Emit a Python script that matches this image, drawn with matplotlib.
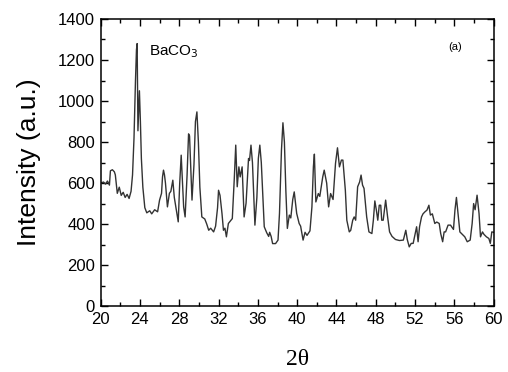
import numpy as np
import matplotlib
matplotlib.use("Agg")
from matplotlib import pyplot as plt
from matplotlib.ticker import MultipleLocator

# XRD pattern (2theta in degrees, intensity a.u.)
two_theta = [
    20.0, 20.3, 20.5, 20.7, 20.9, 21.0, 21.2, 21.4, 21.5, 21.7, 21.9, 22.1,
    22.3, 22.5, 22.7, 22.9, 23.1, 23.25, 23.4, 23.55, 23.65, 23.72, 23.8, 23.95,
    24.05, 24.15, 24.3, 24.5, 24.7, 25.0, 25.2, 25.5, 25.8, 26.0, 26.2, 26.3,
    26.4, 26.5, 26.6, 26.8, 27.0, 27.15, 27.35, 27.5, 27.7, 27.9, 28.05, 28.2,
    28.33, 28.45, 28.6, 28.8, 28.95, 29.05, 29.2, 29.3, 29.5, 29.65, 29.8, 29.95,
    30.1, 30.3, 30.6, 30.8, 31.0, 31.2, 31.5, 31.7, 31.9, 32.0, 32.15, 32.35,
    32.5, 32.65, 32.8, 33.0, 33.4, 33.6, 33.75, 33.9, 34.07, 34.2, 34.4, 34.6,
    34.8, 35.05, 35.15, 35.3, 35.45, 35.7, 35.9, 36.05, 36.2, 36.35, 36.65, 36.9,
    37.1, 37.2, 37.35, 37.5, 37.8, 38.05, 38.2, 38.4, 38.55, 38.7, 38.85, 39.0,
    39.2, 39.35, 39.55, 39.7, 39.95, 40.2, 40.35, 40.6, 40.8, 41.0, 41.3, 41.5,
    41.65, 41.75, 41.9, 42.15, 42.3, 42.6, 42.75, 43.0, 43.2, 43.4, 43.65, 43.9,
    44.1, 44.3, 44.5, 44.65, 44.9, 45.05, 45.3, 45.45, 45.65, 45.8, 45.95, 46.15,
    46.35, 46.5, 46.65, 46.8, 47.07, 47.3, 47.6, 47.75, 47.9, 48.05, 48.2, 48.35,
    48.5, 48.6, 48.75, 49.0, 49.2, 49.4, 49.65, 50.0, 50.4, 50.8, 51.05, 51.2,
    51.4, 51.6, 51.8, 52.15, 52.3, 52.45, 52.65, 52.8, 53.0, 53.2, 53.4, 53.55,
    53.75, 54.0, 54.2, 54.45, 54.6, 54.8, 54.95, 55.1, 55.35, 55.6, 55.9, 56.05,
    56.2, 56.4, 56.55, 56.8, 57.05, 57.3, 57.6, 57.8, 57.95, 58.1, 58.3, 58.5,
    58.65, 58.85, 59.0, 59.25, 59.5, 59.65, 59.8, 60.0,
]
intensity = [
    600, 605, 595, 610, 590, 660, 665, 655, 640, 550, 580, 540,
    555, 530, 545, 525, 560, 640, 820, 1100, 1250, 1280, 855, 1050,
    900, 720, 580, 480, 455, 465, 450, 470, 460, 517, 550, 630,
    663, 640, 600, 484, 550, 560, 614, 530, 470, 411, 600, 736,
    600, 484, 435, 640, 840, 830, 640, 517, 690, 900, 947, 800,
    580, 435, 425, 400, 370, 380, 362, 390, 480, 565, 540, 452,
    370, 380, 338, 403, 427, 620, 785, 582, 679, 630, 679, 435,
    502, 720, 710, 785, 700, 395, 530, 720, 785, 700, 387, 358,
    340, 360, 340, 305, 305, 322, 452, 760, 894, 800, 560, 379,
    444, 430, 520, 557, 452, 403, 390, 322, 360, 345, 367, 484,
    680, 741, 508, 549, 535, 630, 663, 600, 484, 549, 520, 696,
    772, 679, 712, 712, 565, 419, 362, 370, 419, 435, 419, 582,
    605, 639, 590, 574, 435, 362, 354, 419, 513, 470, 419, 492,
    492, 419, 419, 517, 435, 362, 340, 325, 320, 322, 370, 325,
    289, 306, 306, 387, 314, 387, 435, 450, 460, 468, 492, 444,
    450, 403, 410, 403, 354, 314, 362, 362, 395, 395, 374, 468,
    530, 435, 362, 350, 338, 314, 322, 403, 500, 470, 541, 452,
    338, 362, 350, 338, 330, 306, 362, 360,
]

plt.rcParams['font.family'] = ['Liberation Sans', 'DejaVu Sans']

fig = plt.figure(figsize=(5.08, 3.72), dpi=100)
ax = fig.add_axes([0.198, 0.177, 0.774, 0.772])

ax.plot(two_theta, intensity, color='#333333', lw=1.0)

ax.set_xlim(20, 60)
ax.set_ylim(0, 1400)
ax.xaxis.set_major_locator(MultipleLocator(4))
ax.xaxis.set_minor_locator(MultipleLocator(2))
ax.yaxis.set_major_locator(MultipleLocator(200))
ax.yaxis.set_minor_locator(MultipleLocator(100))
ax.tick_params(which='both', direction='in', top=True, right=True,
               labelsize=12, width=1, colors='black')
ax.tick_params(which='major', length=5, pad=4)
ax.tick_params(which='minor', length=3)
for s in ax.spines.values():
    s.set_linewidth(1.1)

ax.set_ylabel('Intensity (a.u.)', fontsize=19, labelpad=12)
ax.set_xlabel('2θ', fontsize=17, family=['Liberation Serif', 'DejaVu Serif'],
              labelpad=16)

ax.text(24.9, 1240, 'BaCO$_3$', fontsize=11, va='center', ha='left')
ax.text(56.1, 1262, '(a)', fontsize=8, va='center', ha='center')

fig.savefig('out.png', dpi=100)
